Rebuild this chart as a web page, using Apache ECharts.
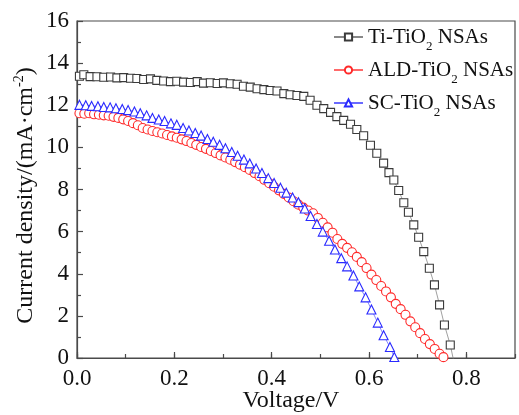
<!DOCTYPE html>
<html>
<head>
<meta charset="utf-8">
<script src="https://cdn.jsdelivr.net/npm/echarts@6/dist/echarts.min.js"></script>
<style>
  html, body { margin: 0; padding: 0; background: #fff; }
  #chart { width: 519px; height: 415px; }
</style>
</head>
<body>
<div id="chart"></div>
<script>
// Photocurrent density–voltage curves of three TiO2 nanosheet-array photoanodes

const seriesNames = ['Ti-TiO2 NSAs', 'ALD-TiO2 NSAs', 'SC-TiO2 NSAs'];
const xTickLabels = ['0.0', '0.2', '0.4', '0.6', '0.8'];
const yTickLabels = ['0', '2', '4', '6', '8', '10', '12', '14', '16'];

// Ti-TiO2 NSAs (V, mA/cm2)
const tiV = [0.005, 0.014, 0.027, 0.041, 0.055, 0.069, 0.082, 0.096, 0.110, 0.123,
  0.137, 0.151, 0.164, 0.178, 0.192, 0.205, 0.219, 0.233, 0.247, 0.260,
  0.274, 0.288, 0.301, 0.315, 0.329, 0.342, 0.356, 0.370, 0.384, 0.397,
  0.411, 0.425, 0.438, 0.452, 0.466, 0.479, 0.493, 0.507, 0.521, 0.534,
  0.548, 0.562, 0.575, 0.589, 0.603, 0.616, 0.630, 0.641, 0.651, 0.661,
  0.6715, 0.681, 0.692, 0.702, 0.7125, 0.724, 0.7345, 0.745, 0.755, 0.767, 0.776];
const tiJ = [13.38, 13.45, 13.36, 13.35, 13.33, 13.34, 13.30, 13.31, 13.28, 13.27,
  13.22, 13.25, 13.18, 13.15, 13.12, 13.14, 13.10, 13.08, 13.12, 13.05,
  13.07, 13.03, 13.06, 13.02, 13.00, 12.90, 12.86, 12.78, 12.74, 12.70,
  12.68, 12.55, 12.50, 12.46, 12.42, 12.24, 12.00, 11.84, 11.66, 11.46,
  11.28, 11.10, 10.85, 10.55, 10.10, 9.72, 9.25, 8.80, 8.45, 7.95,
  7.37, 6.92, 6.32, 5.73, 5.05, 4.26, 3.47, 2.52, 1.57, 0.62, -0.35];

// ALD-TiO2 NSAs
const aldV = [0.005, 0.015, 0.025, 0.035, 0.045, 0.055, 0.065, 0.075, 0.085, 0.095,
  0.105, 0.115, 0.125, 0.135, 0.145, 0.155, 0.165, 0.175, 0.185, 0.195,
  0.205, 0.215, 0.225, 0.235, 0.245, 0.255, 0.265, 0.275, 0.285, 0.295,
  0.305, 0.315, 0.325, 0.335, 0.345, 0.355, 0.365, 0.375, 0.385, 0.395,
  0.405, 0.415, 0.425, 0.435, 0.445, 0.455, 0.465, 0.475, 0.485, 0.495,
  0.505, 0.515, 0.525, 0.535, 0.545, 0.555, 0.565, 0.575, 0.585, 0.595,
  0.605, 0.615, 0.625, 0.635, 0.645, 0.655, 0.665, 0.675, 0.685, 0.695,
  0.705, 0.715, 0.725, 0.735, 0.745, 0.753];
const aldJ = [11.62, 11.60, 11.62, 11.57, 11.55, 11.52, 11.50, 11.45, 11.40, 11.33,
  11.25, 11.15, 11.05, 10.92, 10.85, 10.78, 10.72, 10.66, 10.59, 10.52,
  10.46, 10.38, 10.30, 10.21, 10.12, 10.02, 9.93, 9.83, 9.73, 9.62,
  9.52, 9.41, 9.30, 9.18, 9.06, 8.93, 8.78, 8.63, 8.46, 8.30,
  8.13, 7.96, 7.79, 7.62, 7.44, 7.28, 7.14, 7.00, 6.87, 6.65,
  6.42, 6.20, 5.95, 5.65, 5.42, 5.23, 5.02, 4.80, 4.55, 4.27,
  3.96, 3.70, 3.42, 3.16, 2.88, 2.57, 2.32, 2.05, 1.74, 1.46,
  1.18, 0.90, 0.66, 0.43, 0.20, 0.04];

// SC-TiO2 NSAs
const scV = [0.005, 0.018, 0.030, 0.043, 0.055, 0.068, 0.080, 0.093, 0.105, 0.118,
  0.130, 0.143, 0.155, 0.168, 0.180, 0.193, 0.205, 0.218, 0.230, 0.243,
  0.255, 0.268, 0.280, 0.293, 0.305, 0.318, 0.330, 0.343, 0.355, 0.368,
  0.380, 0.393, 0.405, 0.418, 0.430, 0.443, 0.455, 0.468, 0.480, 0.493,
  0.505, 0.518, 0.530, 0.543, 0.555, 0.568, 0.580, 0.593, 0.605, 0.618,
  0.630, 0.643, 0.652];
const scJ = [12.02, 12.00, 11.97, 11.95, 11.92, 11.90, 11.86, 11.82, 11.77, 11.70,
  11.62, 11.52, 11.40, 11.32, 11.25, 11.14, 11.07, 10.92, 10.80, 10.68,
  10.56, 10.40, 10.27, 10.12, 9.96, 9.78, 9.60, 9.42, 9.24, 9.00,
  8.78, 8.54, 8.31, 8.08, 7.85, 7.62, 7.40, 7.10, 6.74, 6.36,
  6.00, 5.57, 5.15, 4.74, 4.35, 3.92, 3.40, 2.88, 2.30, 1.68,
  1.08, 0.52, 0.05];

const pairs = (xs, ys) => xs.map((x, i) => [x, ys[i]]);

const serif = 'Liberation Serif, Times New Roman, serif';
const axisColor = '#4a4a4a';

const chart = echarts.init(document.getElementById('chart'), null, { renderer: 'canvas' });

const subStyle = { fontSize: 13, fontFamily: serif, color: '#111', lineHeight: 32, verticalAlign: 'bottom' };

function makeSeries(name, data, symbol, size, edge, lineColor) {
  return {
    name: name,
    type: 'line',
    xAxisIndex: 0,
    yAxisIndex: 0,
    data: data,
    symbol: symbol,
    symbolSize: size,
    showSymbol: true,
    clip: true,
    itemStyle: { color: '#fff', borderColor: edge, borderWidth: 1.1 },
    lineStyle: { color: lineColor, width: 0.8 },
    emphasis: { disabled: true },
    z: 3
  };
}

chart.setOption({
  animation: false,
  backgroundColor: '#fff',
  grid: {
    left: 77, right: 4, top: 21, bottom: 57,
    show: true, borderColor: axisColor, borderWidth: 1.2,
    outerBoundsMode: 'none'
  },
  legend: {
    orient: 'vertical',
    left: 328,
    top: 16,
    itemWidth: 29,
    itemHeight: 9,
    itemGap: 1,
    align: 'left',
    data: seriesNames,
    formatter: (n) => n.replace('O2', 'O{sub|2}'),
    textStyle: {
      fontFamily: serif, fontSize: 21, color: '#111', lineHeight: 32,
      rich: { sub: subStyle }
    }
  },
  xAxis: [
    {
      type: 'value', min: 0, max: 0.9, interval: 0.2,
      position: 'bottom',
      axisLine: { show: true, onZero: false, lineStyle: { color: axisColor, width: 1.2 } },
      axisTick: { show: true, inside: true, length: 6, lineStyle: { color: axisColor, width: 1.2 } },
      splitLine: { show: false },
      axisLabel: {
        showMaxLabel: false, margin: 9,
        fontFamily: serif, fontSize: 23, color: '#111',
        formatter: (v) => {
          const k = Math.round(v / 0.2);
          return (Math.abs(v - k * 0.2) < 1e-6 && xTickLabels[k]) ? xTickLabels[k] : '';
        }
      },
      name: 'Voltage/V', nameLocation: 'middle', nameGap: 31, nameMoveOverlap: false,
      nameTextStyle: { fontFamily: serif, fontSize: 24, color: '#111', padding: [0, 10, 0, 0] }
    },
    {
      // minor ticks every 0.1 V
      type: 'value', min: 0, max: 0.9, interval: 0.1,
      position: 'bottom',
      axisLine: { show: false },
      axisTick: { show: true, inside: true, length: 4, lineStyle: { color: axisColor, width: 1.2 } },
      splitLine: { show: false },
      axisLabel: { show: false }
    }
  ],
  yAxis: {
    type: 'value', min: 0, max: 16, interval: 2,
    axisLine: { show: true, onZero: false, lineStyle: { color: axisColor, width: 1.2 } },
    axisTick: { show: true, inside: true, length: 6, lineStyle: { color: axisColor, width: 1.2 } },
    minorTick: { show: true, splitNumber: 2, length: 4, lineStyle: { color: axisColor, width: 1.2 } },
    splitLine: { show: false },
    axisLabel: {
      margin: 8, fontFamily: serif, fontSize: 23, color: '#111',
      formatter: (v) => yTickLabels[Math.round(v / 2)]
    },
    name: 'Current density/(mA·cm{sup|-2})',
    nameLocation: 'middle', nameGap: 37, nameRotate: 90, nameMoveOverlap: false,
    nameTextStyle: {
      fontFamily: serif, fontSize: 24, color: '#111', lineHeight: 28,
      padding: [0, 12, 0, 0],
      rich: { sup: { fontFamily: serif, fontSize: 14, color: '#111', lineHeight: 14, verticalAlign: 'top' } }
    }
  },
  series: [
    makeSeries(seriesNames[0], pairs(tiV, tiJ), 'rect', 8, '#3a3a3a', '#888'),
    makeSeries(seriesNames[1], pairs(aldV, aldJ), 'circle', 9, '#ff2a2a', '#ff6a6a'),
    makeSeries(seriesNames[2], pairs(scV, scJ), 'triangle', 9, '#2a2aff', '#6a6aff')
  ]
});
</script>
</body>
</html>
